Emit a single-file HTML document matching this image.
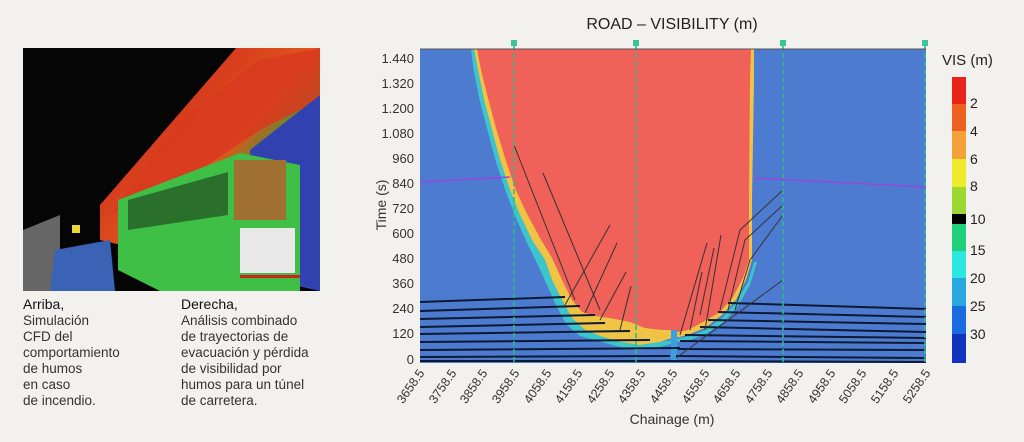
<!DOCTYPE html>
<html><head><meta charset="utf-8"><style>
body{margin:0;width:1024px;height:442px;background:#f3f1ed;overflow:hidden;font-family:"Liberation Sans",sans-serif;color:#222}
.cap{position:absolute;font-size:13.5px;line-height:16px;color:#333}
.cap b{font-weight:normal;color:#111;font-size:14px}
</style></head><body>
<svg width="1024" height="442" style="position:absolute;left:0;top:0" font-family="Liberation Sans, sans-serif">
<defs>
<linearGradient id="smk" x1="0" y1="0" x2="1" y2="1">
<stop offset="0.3" stop-color="#d63a1e"/><stop offset="0.5" stop-color="#e0561a"/><stop offset="0.62" stop-color="#2e9e3a"/><stop offset="0.75" stop-color="#3747b8"/></linearGradient>
</defs>
<!-- photo -->
<rect x="23" y="48" width="297" height="243" fill="#050505"/>
<polygon points="23,230 60,215 60,291 23,291" fill="#666"/>
<polygon points="236,48 320,48 320,291 100,240 100,205" fill="url(#smk)"/>
<polygon points="180,120 260,60 320,48 320,100 260,130 200,170 110,215" fill="#d8391f" opacity="0.85"/>
<polygon points="250,150 320,95 320,291 260,270" fill="#3142b0"/>
<rect x="72" y="225" width="8" height="8" fill="#e8d830"/>
<polygon points="55,250 110,240 115,291 50,291" fill="#3a62b5"/>
<polygon points="118,200 240,153 300,165 300,291 160,291 118,270" fill="#3fbf45"/>
<rect x="234" y="160" width="52" height="60" fill="#a07030"/>
<rect x="240" y="228" width="55" height="45" fill="#e8e8e8"/>
<rect x="240" y="275" width="60" height="3" fill="#d02020"/>
<polygon points="128,200 228,172 228,215 128,230" fill="#1d3a1d" opacity="0.6"/>
<!-- title -->
<text x="672" y="29" font-size="16" text-anchor="middle" fill="#222">ROAD – VISIBILITY (m)</text>
<!-- plot -->
<rect x="420" y="49" width="506" height="314" fill="#4d7bd0"/>
<polygon points="474,49 754,49 754,80 752,200 752,260 746,280 736,300 722,315 705,328 690,334 680,337 672,338 660,342 640,345 620,342 600,336 585,330 572,318 562,300 552,280 545,260 532,240 520,215 510,190 500,160 492,130 484,100 478,70" fill="#efc444"/>
<polygon points="477,49 751,49 750,80 749,200 749,260 743,278 733,297 720,312 703,322 688,330 678,332 670,330 662,330 645,328 630,322 610,318 595,316 582,312 572,300 562,280 552,258 540,238 526,212 515,188 505,158 496,128 488,98 481,70" fill="#ef6159"/>
<polygon points="474,49 478,70 484,100 492,130 500,160 510,190 520,215 532,240 545,260 552,280 562,300 572,318 585,330 600,336 620,342 640,345 660,342 672,340 680,338 690,336 705,330 722,318 736,302 748,282 754,262 757,262 750,285 738,306 724,322 706,334 690,340 678,342 660,347 640,350 620,347 598,341 580,336 566,324 556,305 547,285 538,265 527,243 516,218 506,192 496,162 488,132 480,102 474,72 471,49" fill="#37d9c9" opacity="0.8"/>
<rect x="671" y="330" width="6" height="30" fill="#3aa0e0"/>
<!-- purple -->
<polyline points="420,182 510,177" stroke="#a040e0" stroke-width="1.3" fill="none"/>
<polyline points="754,178 926,187" stroke="#a040e0" stroke-width="1.3" fill="none"/>
<!-- trajectories -->
<g stroke="#0d1a33" stroke-width="2" fill="none">
<path d="M420,302 L565,297"/><path d="M420,311 L580,306"/><path d="M420,319 L595,315"/><path d="M420,327 L605,323"/><path d="M420,334 L630,331"/><path d="M420,342 L650,340"/><path d="M420,350 L680,348"/><path d="M420,357 L670,356"/><path d="M420,361 L672,361"/>
<path d="M728,303 L926,309"/><path d="M718,312 L926,317"/><path d="M708,320 L926,324"/><path d="M700,327 L926,332"/><path d="M685,335 L926,338"/><path d="M680,341 L926,343"/><path d="M678,349 L926,350"/><path d="M676,356 L926,358"/><path d="M672,361 L926,362"/>
</g>
<g stroke="#333" stroke-width="1" fill="none">
<path d="M514,145 L575,300"/><path d="M543,173 L600,310"/><path d="M610,225 L565,305"/><path d="M617,243 L585,313"/><path d="M626,272 L600,320"/><path d="M631,286 L620,330"/>
<path d="M707,243 L680,335"/><path d="M714,248 L700,315"/><path d="M721,235 L705,330"/><path d="M702,272 L690,330"/><path d="M783,190 L740,230 L720,310"/><path d="M783,205 L745,240 L728,310"/><path d="M783,215 L750,260 L735,310"/><path d="M783,280 L676,358"/>
</g>
<!-- dashed -->
<g stroke="#2dbb8a" stroke-width="1.6" stroke-dasharray="5,3">
<line x1="514" y1="45" x2="514" y2="363"/><line x1="636" y1="45" x2="636" y2="363"/><line x1="783" y1="45" x2="783" y2="363"/><line x1="925" y1="45" x2="925" y2="363"/>
</g>
<g fill="#3bc39a"><rect x="511" y="40" width="6" height="6"/><rect x="633" y="40" width="6" height="6"/><rect x="780" y="40" width="6" height="6"/><rect x="922" y="40" width="6" height="6"/></g>
<line x1="420" y1="49" x2="926" y2="49" stroke="#555" stroke-width="1"/>
<!-- y ticks -->
<g font-size="13" text-anchor="end" fill="#333">
<text x="414" y="63">1.440</text><text x="414" y="88">1.320</text><text x="414" y="113">1.200</text><text x="414" y="138">1.080</text><text x="414" y="163">960</text><text x="414" y="188">840</text><text x="414" y="213">720</text><text x="414" y="238">600</text><text x="414" y="263">480</text><text x="414" y="288">360</text><text x="414" y="313">240</text><text x="414" y="338">120</text><text x="414" y="364">0</text>
</g>
<text transform="translate(386,205) rotate(-90)" font-size="14" text-anchor="middle" fill="#333">Time (s)</text>
<g font-size="12.5" text-anchor="end" fill="#333">
<text transform="translate(425,373) rotate(-55)">3658.5</text>
<text transform="translate(457,373) rotate(-55)">3758.5</text>
<text transform="translate(488,373) rotate(-55)">3858.5</text>
<text transform="translate(520,373) rotate(-55)">3958.5</text>
<text transform="translate(552,373) rotate(-55)">4058.5</text>
<text transform="translate(583,373) rotate(-55)">4158.5</text>
<text transform="translate(615,373) rotate(-55)">4258.5</text>
<text transform="translate(646,373) rotate(-55)">4358.5</text>
<text transform="translate(678,373) rotate(-55)">4458.5</text>
<text transform="translate(710,373) rotate(-55)">4558.5</text>
<text transform="translate(741,373) rotate(-55)">4658.5</text>
<text transform="translate(773,373) rotate(-55)">4758.5</text>
<text transform="translate(804,373) rotate(-55)">4858.5</text>
<text transform="translate(836,373) rotate(-55)">4958.5</text>
<text transform="translate(867,373) rotate(-55)">5058.5</text>
<text transform="translate(899,373) rotate(-55)">5158.5</text>
<text transform="translate(931,373) rotate(-55)">5258.5</text>
</g>
<text x="672" y="424" font-size="14" text-anchor="middle" fill="#333">Chainage (m)</text>
<!-- colorbar -->
<text x="942" y="65" font-size="15" fill="#222">VIS (m)</text>
<rect x="952" y="77" width="14" height="28" fill="#e8231a"/>
<rect x="952" y="104" width="14" height="28" fill="#ee6020"/>
<rect x="952" y="131" width="14" height="29" fill="#f3a23a"/>
<rect x="952" y="159" width="14" height="29" fill="#efea2a"/>
<rect x="952" y="187" width="14" height="28" fill="#9cd832"/>
<rect x="952" y="214" width="14" height="10" fill="#000"/>
<rect x="952" y="224" width="14" height="27" fill="#1fd07a"/>
<rect x="952" y="251" width="14" height="28" fill="#2ae8e0"/>
<rect x="952" y="278" width="14" height="28" fill="#27a8e0"/>
<rect x="952" y="306" width="14" height="29" fill="#1b6be0"/>
<rect x="952" y="334" width="14" height="29" fill="#1034c0"/>
<g font-size="14" fill="#222">
<text x="970" y="108">2</text><text x="970" y="136">4</text><text x="970" y="164">6</text><text x="970" y="191">8</text><text x="970" y="224">10</text><text x="970" y="255">15</text><text x="970" y="283">20</text><text x="970" y="311">25</text><text x="970" y="339">30</text>
</g>
</svg>
<div class="cap" style="left:23px;top:296px"><b>Arriba,</b><br>Simulación<br>CFD del<br>comportamiento<br>de humos<br>en caso<br>de incendio.</div>
<div class="cap" style="left:181px;top:296px"><b>Derecha,</b><br>Análisis combinado<br>de trayectorias de<br>evacuación y pérdida<br>de visibilidad por<br>humos para un túnel<br>de carretera.</div>
</body></html>
